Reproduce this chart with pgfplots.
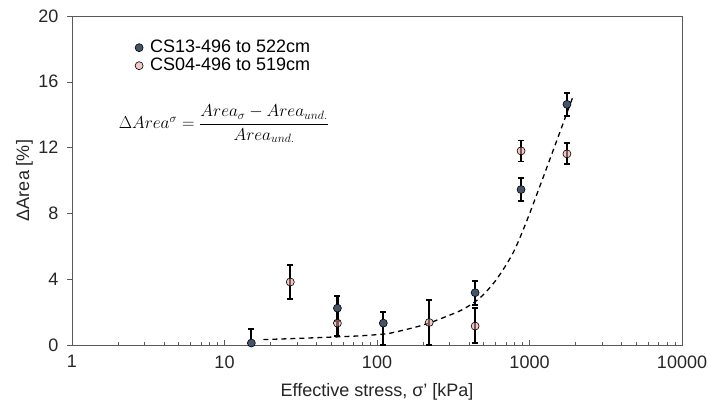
\documentclass[border=0pt]{standalone}
\usepackage{amsmath}
\usepackage{fontspec}
\setmainfont{Liberation Sans}
\usepackage{pgfplots}
\pgfplotsset{compat=1.18}
\usepackage{pgfplotstable}

\definecolor{csblue}{HTML}{44546A}
\definecolor{cspink}{HTML}{E59C97}
\definecolor{axgray}{HTML}{595959}

% x = effective stress [kPa], y = Delta area [%], ep/em = error bar up/down
\pgfplotstableread{
x     y      ep    em
15    0.12   0.85  0.12
55    2.24   0.76  0.76
110   1.33   0.66  1.33
440   3.18   0.72  0.75
880   9.45   0.72  0.72
1760  14.63  0.71  0.71
}\csthirteen

\pgfplotstableread{
x     y      ep    em
27    3.83   1.03  1.03
55    1.33   0.78  0.78
220   1.37   1.39  1.37
440   1.15   1.10  1.05
880   11.80  0.63  0.65
1760  11.62  0.64  0.62
}\csfour

% dashed trend
\pgfplotstableread{
x     y
18    0.33
30    0.40
50    0.48
75    0.55
100   0.63
122   0.72
173   1.05
219   1.33
282   1.72
363   2.15
470   2.84
603   3.95
777   5.57
955   7.50
1300  10.80
1945  15.20
}\trend

\begin{document}
\begin{tikzpicture}
\begin{axis}[
  scale only axis, width=610pt, height=329pt,
  xmode=log, xmin=1, xmax=10000, ymin=0, ymax=20,
  xtick={1,10,100,1000,10000}, xticklabels={1,10,100,1000,10000},
  ytick={0,4,8,12,16,20},
  tick pos=left,
  xtick align=inside, ytick align=outside,
  major tick length=5pt, minor tick length=3pt,
  every tick/.style={axgray, line width=0.6pt},
  axis line style={axgray, line width=0.8pt},
  ticklabel style={font=\fontsize{18}{20}\selectfont, text=black!85},
  yticklabel style={xshift=-5pt},
  xticklabel style={yshift=-7pt},
  /pgf/number format/assume math mode=true,
  xlabel={Effective stress, σ’ [kPa]},
  ylabel={ΔArea [\%]},
  label style={font=\fontsize{18}{20}\selectfont, text=black!85},
  xlabel style={at={(axis description cs:0.5,-0.143)}, anchor=center},
  ylabel style={at={(axis description cs:-0.078,0.5)}, anchor=center},
  clip=false,
  legend image code/.code={\draw[#1] plot coordinates {(0pt,0pt)};},
  legend style={draw=none, fill=none, inner sep=0pt, outer sep=0pt,
    at={(axis description cs:0.1035,0.9295)}, anchor=north west,
    font=\fontsize{18}{18}\selectfont,
    nodes={inner sep=0pt, text height=13pt, text depth=4pt},
    row sep=1pt, column sep=7pt},
  legend cell align=left,
  error bars/error bar style={black, line width=2.2pt},
  error bars/error mark options={black, rotate=90, mark size=3pt, line width=1.8pt},
]
\addplot[black, line width=1.3pt, dash pattern=on 5pt off 4pt, smooth, forget plot]
  table[x=x, y=y] {\trend};

\addplot[only marks, mark=*, mark size=4pt,
  mark options={fill=csblue, draw=black, line width=0.6pt},
  error bars/.cd, y dir=both, y explicit]
  table[x=x, y=y, y error plus=ep, y error minus=em] {\csthirteen};
\addlegendentry{CS13-496 to 522cm}

\addplot[only marks, mark=*, mark size=4pt,
  mark options={fill=cspink, fill opacity=0.55, draw=black, line width=0.6pt},
  error bars/.cd, y dir=both, y explicit]
  table[x=x, y=y, y error plus=ep, y error minus=em] {\csfour};
\addlegendentry{CS04-496 to 519cm}

\node at (axis description cs:0.249,0.672)
  {\fontsize{18}{20}\selectfont $\Delta Area^{\sigma} = \dfrac{Area_{\sigma} - Area_{und.}}{Area_{und.}}$};
\end{axis}
\pgfresetboundingbox
\useasboundingbox (-72pt,-60pt) rectangle (636pt,345pt);
\end{tikzpicture}
\end{document}
